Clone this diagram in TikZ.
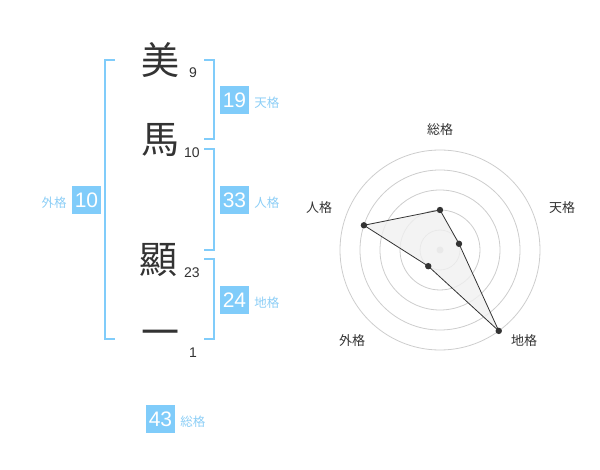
\documentclass[tikz,border=0pt]{standalone}
\usepackage{fontspec}
\setmainfont{Liberation Sans}
\newfontfamily\jpfont{Noto Sans CJK JP}
\usetikzlibrary{positioning, calc}

\begin{document}
\begin{tikzpicture}[x=1pt, y=-1pt,
    kanji/.style={font=\jpfont\fontsize{38}{38}\selectfont, text=chargray, inner sep=0},
    strokes/.style={font=\fontsize{14}{14}\selectfont, text=chargray, inner sep=0},
    kakubox/.style={fill=kakublue, text=white, minimum width=29pt, minimum height=28pt, inner sep=0, font=\fontsize{21}{21}\selectfont},
    kakulabel/.style={font=\jpfont\fontsize{12.5}{12.5}\selectfont, text=kakutext, inner sep=0},
    radarlabel/.style={font=\jpfont\fontsize{13}{13}\selectfont, text=chargray, inner sep=0},
    bracket/.style={draw=kakublue, line width=2pt}]
    % Define colors
    \definecolor{kakublue}{RGB}{128, 204, 250}
    \definecolor{kakutext}{RGB}{140, 206, 246}
    \definecolor{chargray}{RGB}{51, 51, 51}
    \definecolor{ringgray}{RGB}{205, 205, 205}
    \definecolor{areagray}{RGB}{240, 240, 240}

    \useasboundingbox (0,0) rectangle (600,470);

    \def\bl{105}
    \def\br{214}
    \def\tick{10}

    % Name characters and stroke counts
    \node[kanji] (c1) at (160,60) {美};
    \node[strokes] (s1) at (193,73) {9};
    \node[kanji] (c2) at (160,140) {馬};
    \node[strokes] (s2) at (192,153) {10};
    \node[kanji] (c3) at (158,260) {顯};
    \node[strokes] (s3) at (192,273) {23};
    \node[kanji] (c4) at (160,338) {一};
    \node[strokes] (s4) at (193,353) {1};

    % Draw the brackets
    \draw[bracket] (\bl+\tick,60) -- (\bl,60) -- (\bl,339) -- (\bl+\tick,339);
    \draw[bracket] (\br-\tick,60) -- (\br,60) -- (\br,139) -- (\br-\tick,139);
    \draw[bracket] (\br-\tick,149) -- (\br,149) -- (\br,250) -- (\br-\tick,250);
    \draw[bracket] (\br-\tick,259) -- (\br,259) -- (\br,339) -- (\br-\tick,339);

    % Boxes and labels
    \node[kakubox] (ten) at (234.5,100) {19};
    \node[kakulabel, right=5pt of ten, yshift=-3pt] (tenl) {天格};
    \node[kakubox] (jin) at (234.5,200) {33};
    \node[kakulabel, right=5pt of jin, yshift=-3pt] (jinl) {人格};
    \node[kakubox] (chi) at (234.5,300) {24};
    \node[kakulabel, right=5pt of chi, yshift=-3pt] (chil) {地格};
    \node[kakubox] (gai) at (86.5,200) {10};
    \node[kakulabel, left=5pt of gai, yshift=-3pt] (gail) {外格};
    \node[kakubox] (sou) at (160.5,419) {43};
    \node[kakulabel, right=5pt of sou, yshift=-3pt] (soul) {総格};

    % Radar chart
    \coordinate (o) at (440,250);
    \foreach \r in {20,40,...,100} {
        \draw[ringgray, line width=0.8pt] (o) circle (\r pt);
    }
    \fill[ringgray] (o) circle (3.5pt);

    \coordinate (p1) at ($(o)+(-90:40)$);
    \coordinate (p2) at ($(o)+(-18:20)$);
    \coordinate (p3) at ($(o)+(54:100)$);
    \coordinate (p4) at ($(o)+(126:20)$);
    \coordinate (p5) at ($(o)+(-162:80)$);

    \filldraw[fill=areagray, fill opacity=0.8, draw=chargray, line width=0.8pt]
        (p1) -- (p2) -- (p3) -- (p4) -- (p5) -- cycle;
    \foreach \p in {p1,p2,p3,p4,p5} {
        \fill[chargray] (\p) circle (3.2pt);
    }

    \node[radarlabel] (r1) at (440,130) {総格};
    \node[radarlabel] (r2) at (562,208) {天格};
    \node[radarlabel] (r3) at (524,341) {地格};
    \node[radarlabel] (r4) at (352,341) {外格};
    \node[radarlabel] (r5) at (319,208) {人格};
\end{tikzpicture}
\end{document}
